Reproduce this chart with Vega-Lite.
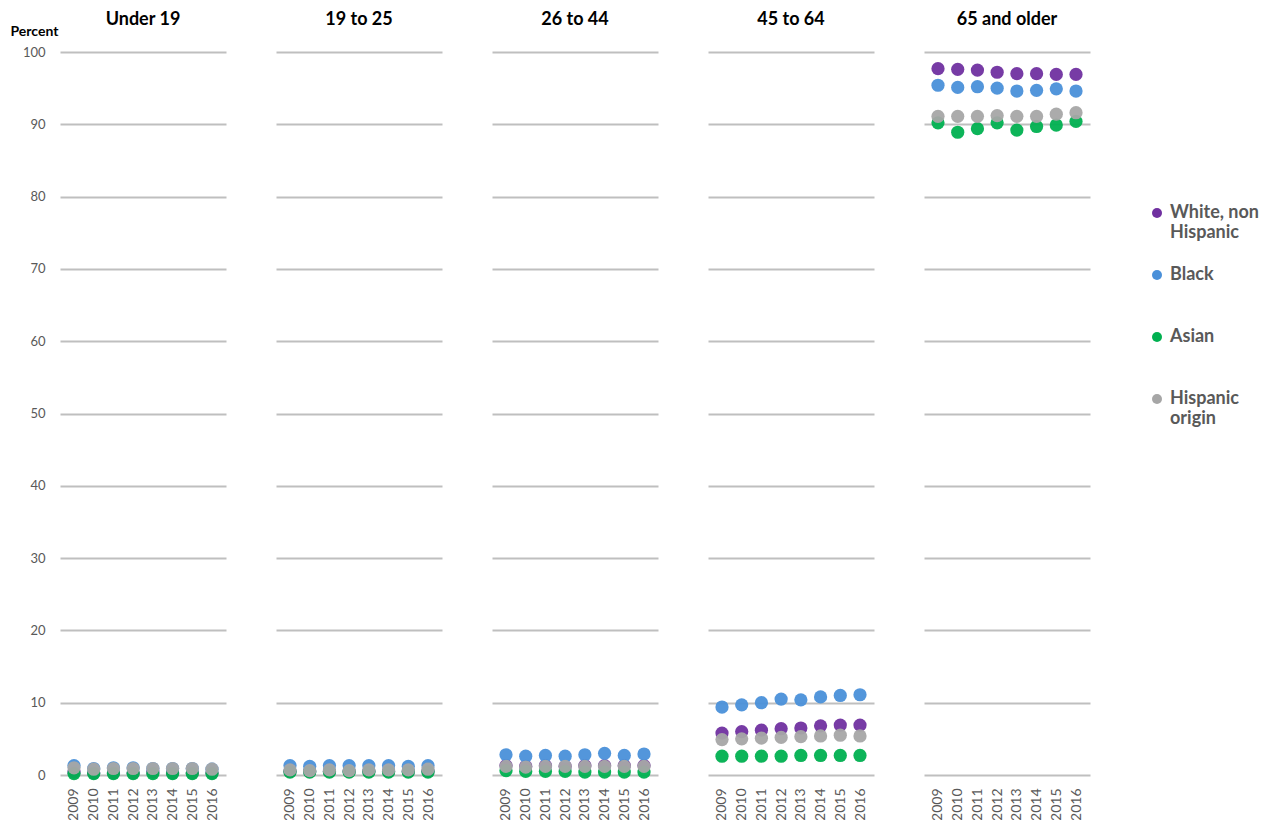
{
  "$schema": "https://vega.github.io/schema/vega-lite/v6.json",
  "background": "white",
  "padding": {"left": 10, "top": 11, "right": 5, "bottom": 0},
  "data": {"values": [
    {"age":"Under 19","year":"2009","race":"White, non Hispanic","pct":0.4},
    {"age":"Under 19","year":"2009","race":"Black","pct":1.3},
    {"age":"Under 19","year":"2009","race":"Asian","pct":0.2},
    {"age":"Under 19","year":"2009","race":"Hispanic origin","pct":1.0},
    {"age":"Under 19","year":"2010","race":"White, non Hispanic","pct":0.3},
    {"age":"Under 19","year":"2010","race":"Black","pct":0.9},
    {"age":"Under 19","year":"2010","race":"Asian","pct":0.2},
    {"age":"Under 19","year":"2010","race":"Hispanic origin","pct":0.8},
    {"age":"Under 19","year":"2011","race":"White, non Hispanic","pct":0.3},
    {"age":"Under 19","year":"2011","race":"Black","pct":1.0},
    {"age":"Under 19","year":"2011","race":"Asian","pct":0.2},
    {"age":"Under 19","year":"2011","race":"Hispanic origin","pct":0.9},
    {"age":"Under 19","year":"2012","race":"White, non Hispanic","pct":0.3},
    {"age":"Under 19","year":"2012","race":"Black","pct":1.0},
    {"age":"Under 19","year":"2012","race":"Asian","pct":0.2},
    {"age":"Under 19","year":"2012","race":"Hispanic origin","pct":0.9},
    {"age":"Under 19","year":"2013","race":"White, non Hispanic","pct":0.4},
    {"age":"Under 19","year":"2013","race":"Black","pct":0.9},
    {"age":"Under 19","year":"2013","race":"Asian","pct":0.2},
    {"age":"Under 19","year":"2013","race":"Hispanic origin","pct":0.9},
    {"age":"Under 19","year":"2014","race":"White, non Hispanic","pct":0.3},
    {"age":"Under 19","year":"2014","race":"Black","pct":0.9},
    {"age":"Under 19","year":"2014","race":"Asian","pct":0.2},
    {"age":"Under 19","year":"2014","race":"Hispanic origin","pct":0.9},
    {"age":"Under 19","year":"2015","race":"White, non Hispanic","pct":0.3},
    {"age":"Under 19","year":"2015","race":"Black","pct":0.9},
    {"age":"Under 19","year":"2015","race":"Asian","pct":0.2},
    {"age":"Under 19","year":"2015","race":"Hispanic origin","pct":0.9},
    {"age":"Under 19","year":"2016","race":"White, non Hispanic","pct":0.3},
    {"age":"Under 19","year":"2016","race":"Black","pct":0.8},
    {"age":"Under 19","year":"2016","race":"Asian","pct":0.2},
    {"age":"Under 19","year":"2016","race":"Hispanic origin","pct":0.8},

    {"age":"19 to 25","year":"2009","race":"White, non Hispanic","pct":0.5},
    {"age":"19 to 25","year":"2009","race":"Black","pct":1.3},
    {"age":"19 to 25","year":"2009","race":"Asian","pct":0.4},
    {"age":"19 to 25","year":"2009","race":"Hispanic origin","pct":0.7},
    {"age":"19 to 25","year":"2010","race":"White, non Hispanic","pct":0.5},
    {"age":"19 to 25","year":"2010","race":"Black","pct":1.2},
    {"age":"19 to 25","year":"2010","race":"Asian","pct":0.4},
    {"age":"19 to 25","year":"2010","race":"Hispanic origin","pct":0.6},
    {"age":"19 to 25","year":"2011","race":"White, non Hispanic","pct":0.5},
    {"age":"19 to 25","year":"2011","race":"Black","pct":1.3},
    {"age":"19 to 25","year":"2011","race":"Asian","pct":0.4},
    {"age":"19 to 25","year":"2011","race":"Hispanic origin","pct":0.7},
    {"age":"19 to 25","year":"2012","race":"White, non Hispanic","pct":0.5},
    {"age":"19 to 25","year":"2012","race":"Black","pct":1.3},
    {"age":"19 to 25","year":"2012","race":"Asian","pct":0.4},
    {"age":"19 to 25","year":"2012","race":"Hispanic origin","pct":0.6},
    {"age":"19 to 25","year":"2013","race":"White, non Hispanic","pct":0.5},
    {"age":"19 to 25","year":"2013","race":"Black","pct":1.3},
    {"age":"19 to 25","year":"2013","race":"Asian","pct":0.4},
    {"age":"19 to 25","year":"2013","race":"Hispanic origin","pct":0.7},
    {"age":"19 to 25","year":"2014","race":"White, non Hispanic","pct":0.5},
    {"age":"19 to 25","year":"2014","race":"Black","pct":1.3},
    {"age":"19 to 25","year":"2014","race":"Asian","pct":0.4},
    {"age":"19 to 25","year":"2014","race":"Hispanic origin","pct":0.7},
    {"age":"19 to 25","year":"2015","race":"White, non Hispanic","pct":0.5},
    {"age":"19 to 25","year":"2015","race":"Black","pct":1.2},
    {"age":"19 to 25","year":"2015","race":"Asian","pct":0.4},
    {"age":"19 to 25","year":"2015","race":"Hispanic origin","pct":0.7},
    {"age":"19 to 25","year":"2016","race":"White, non Hispanic","pct":0.5},
    {"age":"19 to 25","year":"2016","race":"Black","pct":1.3},
    {"age":"19 to 25","year":"2016","race":"Asian","pct":0.4},
    {"age":"19 to 25","year":"2016","race":"Hispanic origin","pct":0.8},

    {"age":"26 to 44","year":"2009","race":"White, non Hispanic","pct":1.3},
    {"age":"26 to 44","year":"2009","race":"Black","pct":2.8},
    {"age":"26 to 44","year":"2009","race":"Asian","pct":0.6},
    {"age":"26 to 44","year":"2009","race":"Hispanic origin","pct":1.2},
    {"age":"26 to 44","year":"2010","race":"White, non Hispanic","pct":1.2},
    {"age":"26 to 44","year":"2010","race":"Black","pct":2.6},
    {"age":"26 to 44","year":"2010","race":"Asian","pct":0.5},
    {"age":"26 to 44","year":"2010","race":"Hispanic origin","pct":1.1},
    {"age":"26 to 44","year":"2011","race":"White, non Hispanic","pct":1.3},
    {"age":"26 to 44","year":"2011","race":"Black","pct":2.7},
    {"age":"26 to 44","year":"2011","race":"Asian","pct":0.5},
    {"age":"26 to 44","year":"2011","race":"Hispanic origin","pct":1.2},
    {"age":"26 to 44","year":"2012","race":"White, non Hispanic","pct":1.2},
    {"age":"26 to 44","year":"2012","race":"Black","pct":2.6},
    {"age":"26 to 44","year":"2012","race":"Asian","pct":0.5},
    {"age":"26 to 44","year":"2012","race":"Hispanic origin","pct":1.2},
    {"age":"26 to 44","year":"2013","race":"White, non Hispanic","pct":1.3},
    {"age":"26 to 44","year":"2013","race":"Black","pct":2.8},
    {"age":"26 to 44","year":"2013","race":"Asian","pct":0.4},
    {"age":"26 to 44","year":"2013","race":"Hispanic origin","pct":1.2},
    {"age":"26 to 44","year":"2014","race":"White, non Hispanic","pct":1.3},
    {"age":"26 to 44","year":"2014","race":"Black","pct":3.0},
    {"age":"26 to 44","year":"2014","race":"Asian","pct":0.4},
    {"age":"26 to 44","year":"2014","race":"Hispanic origin","pct":1.2},
    {"age":"26 to 44","year":"2015","race":"White, non Hispanic","pct":1.3},
    {"age":"26 to 44","year":"2015","race":"Black","pct":2.7},
    {"age":"26 to 44","year":"2015","race":"Asian","pct":0.4},
    {"age":"26 to 44","year":"2015","race":"Hispanic origin","pct":1.2},
    {"age":"26 to 44","year":"2016","race":"White, non Hispanic","pct":1.3},
    {"age":"26 to 44","year":"2016","race":"Black","pct":2.9},
    {"age":"26 to 44","year":"2016","race":"Asian","pct":0.4},
    {"age":"26 to 44","year":"2016","race":"Hispanic origin","pct":1.2},

    {"age":"45 to 64","year":"2009","race":"White, non Hispanic","pct":5.8},
    {"age":"45 to 64","year":"2009","race":"Black","pct":9.4},
    {"age":"45 to 64","year":"2009","race":"Asian","pct":2.6},
    {"age":"45 to 64","year":"2009","race":"Hispanic origin","pct":4.9},
    {"age":"45 to 64","year":"2010","race":"White, non Hispanic","pct":6.0},
    {"age":"45 to 64","year":"2010","race":"Black","pct":9.7},
    {"age":"45 to 64","year":"2010","race":"Asian","pct":2.6},
    {"age":"45 to 64","year":"2010","race":"Hispanic origin","pct":5.0},
    {"age":"45 to 64","year":"2011","race":"White, non Hispanic","pct":6.2},
    {"age":"45 to 64","year":"2011","race":"Black","pct":10.0},
    {"age":"45 to 64","year":"2011","race":"Asian","pct":2.6},
    {"age":"45 to 64","year":"2011","race":"Hispanic origin","pct":5.1},
    {"age":"45 to 64","year":"2012","race":"White, non Hispanic","pct":6.4},
    {"age":"45 to 64","year":"2012","race":"Black","pct":10.5},
    {"age":"45 to 64","year":"2012","race":"Asian","pct":2.6},
    {"age":"45 to 64","year":"2012","race":"Hispanic origin","pct":5.2},
    {"age":"45 to 64","year":"2013","race":"White, non Hispanic","pct":6.5},
    {"age":"45 to 64","year":"2013","race":"Black","pct":10.4},
    {"age":"45 to 64","year":"2013","race":"Asian","pct":2.7},
    {"age":"45 to 64","year":"2013","race":"Hispanic origin","pct":5.3},
    {"age":"45 to 64","year":"2014","race":"White, non Hispanic","pct":6.8},
    {"age":"45 to 64","year":"2014","race":"Black","pct":10.8},
    {"age":"45 to 64","year":"2014","race":"Asian","pct":2.7},
    {"age":"45 to 64","year":"2014","race":"Hispanic origin","pct":5.4},
    {"age":"45 to 64","year":"2015","race":"White, non Hispanic","pct":6.9},
    {"age":"45 to 64","year":"2015","race":"Black","pct":11.0},
    {"age":"45 to 64","year":"2015","race":"Asian","pct":2.7},
    {"age":"45 to 64","year":"2015","race":"Hispanic origin","pct":5.5},
    {"age":"45 to 64","year":"2016","race":"White, non Hispanic","pct":6.9},
    {"age":"45 to 64","year":"2016","race":"Black","pct":11.1},
    {"age":"45 to 64","year":"2016","race":"Asian","pct":2.7},
    {"age":"45 to 64","year":"2016","race":"Hispanic origin","pct":5.4},

    {"age":"65 and older","year":"2009","race":"White, non Hispanic","pct":97.7},
    {"age":"65 and older","year":"2009","race":"Black","pct":95.4},
    {"age":"65 and older","year":"2009","race":"Asian","pct":90.2},
    {"age":"65 and older","year":"2009","race":"Hispanic origin","pct":91.1},
    {"age":"65 and older","year":"2010","race":"White, non Hispanic","pct":97.6},
    {"age":"65 and older","year":"2010","race":"Black","pct":95.1},
    {"age":"65 and older","year":"2010","race":"Asian","pct":88.9},
    {"age":"65 and older","year":"2010","race":"Hispanic origin","pct":91.1},
    {"age":"65 and older","year":"2011","race":"White, non Hispanic","pct":97.5},
    {"age":"65 and older","year":"2011","race":"Black","pct":95.2},
    {"age":"65 and older","year":"2011","race":"Asian","pct":89.4},
    {"age":"65 and older","year":"2011","race":"Hispanic origin","pct":91.1},
    {"age":"65 and older","year":"2012","race":"White, non Hispanic","pct":97.2},
    {"age":"65 and older","year":"2012","race":"Black","pct":95.0},
    {"age":"65 and older","year":"2012","race":"Asian","pct":90.2},
    {"age":"65 and older","year":"2012","race":"Hispanic origin","pct":91.2},
    {"age":"65 and older","year":"2013","race":"White, non Hispanic","pct":97.0},
    {"age":"65 and older","year":"2013","race":"Black","pct":94.6},
    {"age":"65 and older","year":"2013","race":"Asian","pct":89.2},
    {"age":"65 and older","year":"2013","race":"Hispanic origin","pct":91.1},
    {"age":"65 and older","year":"2014","race":"White, non Hispanic","pct":97.0},
    {"age":"65 and older","year":"2014","race":"Black","pct":94.7},
    {"age":"65 and older","year":"2014","race":"Asian","pct":89.7},
    {"age":"65 and older","year":"2014","race":"Hispanic origin","pct":91.1},
    {"age":"65 and older","year":"2015","race":"White, non Hispanic","pct":96.9},
    {"age":"65 and older","year":"2015","race":"Black","pct":94.9},
    {"age":"65 and older","year":"2015","race":"Asian","pct":89.9},
    {"age":"65 and older","year":"2015","race":"Hispanic origin","pct":91.4},
    {"age":"65 and older","year":"2016","race":"White, non Hispanic","pct":96.9},
    {"age":"65 and older","year":"2016","race":"Black","pct":94.6},
    {"age":"65 and older","year":"2016","race":"Asian","pct":90.4},
    {"age":"65 and older","year":"2016","race":"Hispanic origin","pct":91.6}
  ]},
  "facet": {
    "column": {
      "field": "age",
      "type": "nominal",
      "sort": ["Under 19", "19 to 25", "26 to 44", "45 to 64", "65 and older"],
      "header": {
        "title": null,
        "labelFont": "Lato",
        "labelFontSize": 18,
        "labelFontWeight": "bold",
        "labelColor": "#000000",
        "labelPadding": 23
      }
    }
  },
  "spacing": 50,
  "spec": {
    "width": 166,
    "height": 723,
    "mark": {"type": "circle", "size": 175, "opacity": 0.95},
    "encoding": {
      "x": {
        "field": "year",
        "type": "ordinal",
        "scale": {"type": "point", "padding": 0.71},
        "axis": {
          "title": null,
          "labelAngle": -90,
          "labelFont": "Lato",
          "labelFontSize": 14,
          "labelColor": "#595959",
          "labelPadding": 7,
          "ticks": false,
          "domain": false,
          "grid": false
        }
      },
      "y": {
        "field": "pct",
        "type": "quantitative",
        "scale": {"domain": [0, 100], "nice": false},
        "axis": {
          "values": [0, 10, 20, 30, 40, 50, 60, 70, 80, 90, 100],
          "title": "Percent",
          "titleAngle": 0,
          "titleFont": "Lato",
          "titleFontSize": 14,
          "titleFontWeight": "bold",
          "titleColor": "#000000",
          "titleAlign": "left",
          "titleBaseline": "alphabetic",
          "titleX": -50,
          "titleY": -17,
          "labelFont": "Lato",
          "labelFontSize": 13,
          "labelColor": "#595959",
          "labelPadding": 15,
          "ticks": false,
          "domain": false,
          "grid": true,
          "gridColor": "#bfbfbf",
          "gridWidth": 2
        }
      },
      "color": {
        "field": "race",
        "type": "nominal",
        "scale": {
          "domain": ["White, non Hispanic", "Black", "Asian", "Hispanic origin"],
          "range": ["#7030a0", "#4a90d9", "#00b050", "#a6a6a6"]
        },
        "legend": {
          "title": null,
          "orient": "none",
          "legendX": 1088,
          "legendY": 152,
          "symbolType": "circle",
          "symbolSize": 100,
          "symbolOpacity": 1,
          "symbolStrokeWidth": 0,
          "labelFont": "Lato",
          "labelFontSize": 18,
          "labelFontWeight": "bold",
          "labelColor": "#595959",
          "labelOffset": 4,
          "labelExpr": "datum.label == 'White, non Hispanic' ? ['White, non', 'Hispanic'] : datum.label == 'Hispanic origin' ? ['Hispanic', 'origin'] : datum.label",
          "gridAlign": "all",
          "rowPadding": 24
        }
      }
    }
  },
  "config": {
    "view": {"stroke": null}
  }
}
